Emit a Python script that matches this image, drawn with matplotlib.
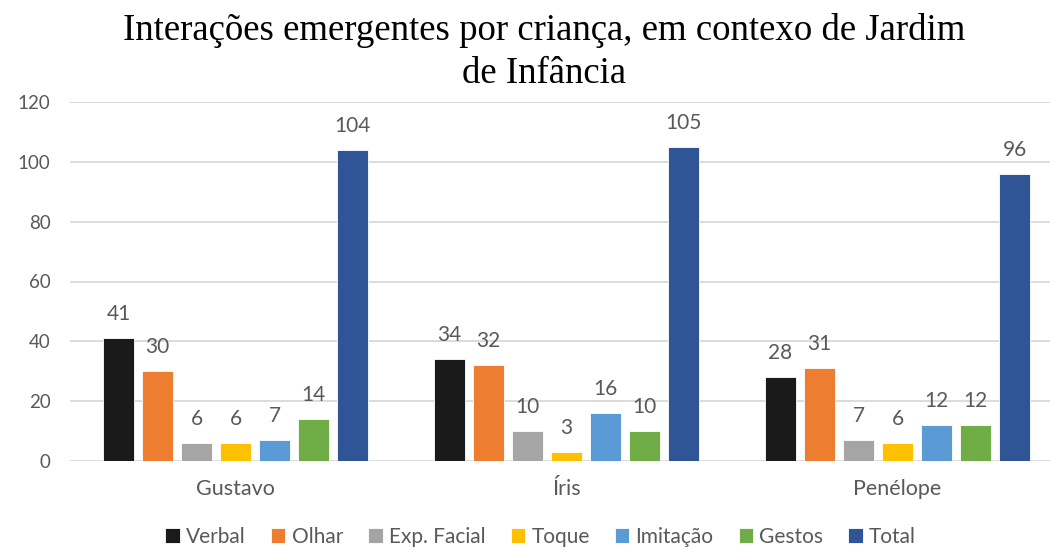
import numpy as np
import matplotlib.pyplot as plt

# data
children = ['Gustavo', 'Íris', 'Penélope']
series = ['Verbal', 'Olhar', 'Exp. Facial', 'Toque', 'Imitação', 'Gestos', 'Total']
values = {
    'Verbal': [41, 34, 28],
    'Olhar': [30, 32, 31],
    'Exp. Facial': [6, 10, 7],
    'Toque': [6, 3, 6],
    'Imitação': [7, 16, 12],
    'Gestos': [14, 10, 12],
    'Total': [104, 105, 96],
}
colors = ['#1a1a1a', '#ED7D31', '#A5A5A5', '#FFC000', '#5B9BD5', '#70AD47', '#2F5597']

text_col = '#595959'
font = ['Lato', 'DejaVu Sans']

fig = plt.figure(figsize=(10.5, 5.48), dpi=100)
ax = fig.add_axes([70 / 1050, 87 / 548, 993 / 1050, 359 / 548])

x = np.arange(len(children))
slot = 39 / 331
width = 31 / 331
for i, name in enumerate(series):
    pos = x + (i - 3) * slot
    bars = ax.bar(pos, values[name], width, color=colors[i], label=name,
                  edgecolor='white', linewidth=0.6, zorder=3)
    ax.bar_label(bars, padding=10, fontsize=15, color=text_col, family=font)

ax.set_xlim(-0.5, 2.5)
ax.set_ylim(0, 120)
ax.set_yticks(range(0, 121, 20))
ax.yaxis.grid(True, color='#D9D9D9', linewidth=1.3, zorder=0)
for s in ['top', 'right', 'left', 'bottom']:
    ax.spines[s].set_visible(False)
ax.tick_params(axis='both', length=0, labelcolor=text_col)
ax.tick_params(axis='y', pad=14, labelsize=13.5)
ax.tick_params(axis='x', pad=13, labelsize=15.5)
ax.set_xticks(x)
ax.set_xticklabels(children)
for lbl in ax.get_xticklabels() + ax.get_yticklabels():
    lbl.set_family(font)

fig.text(0.518, 0.976, 'Interações emergentes por criança, em contexo de Jardim\nde Infância',
         ha='center', va='top', fontsize=26.5, family='Liberation Serif',
         linespacing=1.3)

leg = fig.legend(loc='center', bbox_to_anchor=(0.515, 0.02), ncol=7,
                 frameon=False, prop={'family': font, 'size': 15},
                 handlelength=0.7, handleheight=0.7, handletextpad=0.3,
                 columnspacing=1.2)
for t in leg.get_texts():
    t.set_color(text_col)

fig.savefig('out.png', dpi=100)
